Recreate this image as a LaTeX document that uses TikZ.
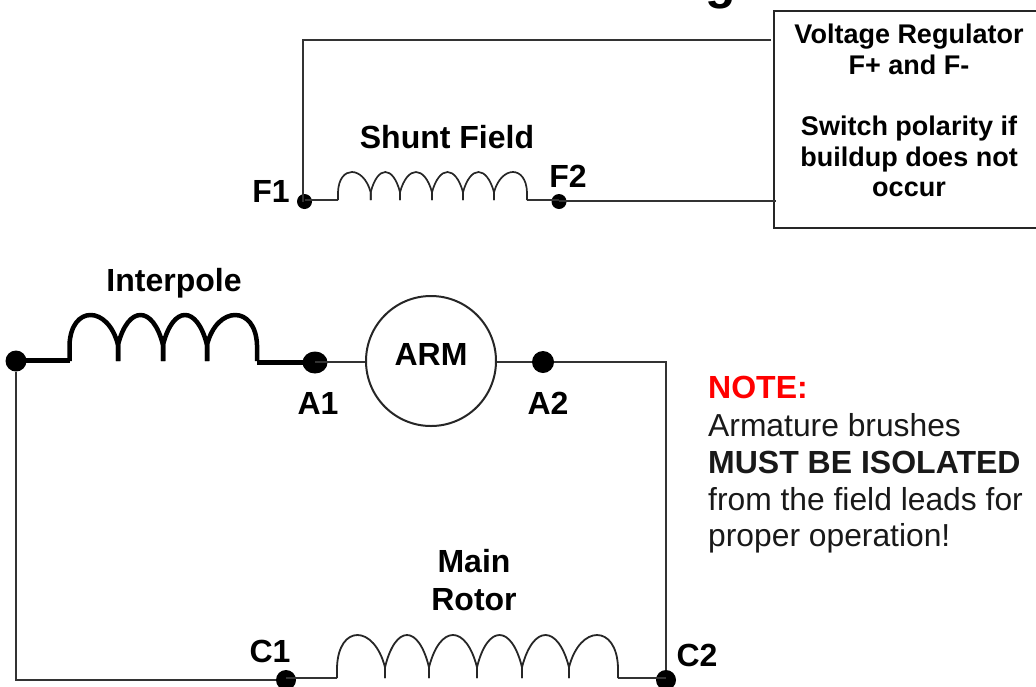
\documentclass[tikz,border=0pt]{standalone}
\usetikzlibrary{shapes.geometric}
\usepackage{fontspec}
\setmainfont{Liberation Sans}
% style, base y, top y, share of the height taken by the stems, list of xa/xb/inset a/inset b
\newcommand{\coil}[5]{%
  \pgfmathsetmacro{\yj}{#2-#4*(#2-#3)}%
  \pgfmathsetmacro{\yc}{\yj-(\yj-#3)/0.75}%
  \foreach \xa/\xb/\ia/\ib in {#5} {
    \draw[#1,line cap=butt,line join=round] (\xa,#2) -- (\xa,\yj) .. controls (\xa+\ia,\yc) and (\xb-\ib,\yc) .. (\xb,\yj) -- (\xb,#2);
  }
}
\tikzset{
  x=1pt,y=-1pt,
  wire/.style={draw=black!80,line width=2pt},
  thickwire/.style={draw=black,line width=5pt},
  dotnode/.style={circle,fill=black,inner sep=0pt,minimum size=#1},
  lab/.style={font=\fontsize{32}{37}\selectfont\bfseries,text=black,inner sep=0pt,anchor=base,align=center},
  boxtext/.style={font=\fontsize{27}{31}\selectfont\bfseries,text=black,inner sep=0pt,anchor=base,align=center},
  note/.style={font=\fontsize{31.8}{37}\selectfont,text=black!90,inner sep=0pt,anchor=base west,align=left},
  notebold/.style={note,font=\fontsize{32}{37}\selectfont\bfseries},
}
\begin{document}
\begin{tikzpicture}
\useasboundingbox (0,0) rectangle (1036,686);
\clip (0,0) rectangle (1036,686);
\node[inner sep=0pt,anchor=base,font=\fontsize{50}{50}\selectfont\bfseries] (title) at (721,-2) {g};
% regulator box
\node[draw=black!85,line width=2pt,minimum width=300pt,minimum height=217pt,anchor=north west,inner sep=0pt] (box) at (773,9.5) {};
\node[boxtext] (vr1) at (909,43) {Voltage Regulator};
\node[boxtext] (vr2) at (909,74) {F+ and F-};
\node[boxtext] (vr3) at (909,135) {Switch polarity if};
\node[boxtext] (vr4) at (909,166) {buildup does not};
\node[boxtext] (vr5) at (909,196) {occur};
% shunt field
\node[dotnode=15pt] (f1) at (304.5,201.5) {};
\node[dotnode=15pt] (f2) at (559,201.5) {};
\coordinate (sa) at (338,200);
\coordinate (sb) at (527,200);
\coordinate (tl) at (303,40);
\coordinate (tr) at (771,40);
\coordinate (br) at (776,201);
\draw[wire] (tr) -- (tl) -- (tl |- f1);
\draw[wire] (f1 |- sa) -- (sa);
\draw[wire] (sb) -- (f2 |- sb);
\draw[wire] (f2 |- br) -- (br);
\coil{line width=1.7pt,draw=black!85}{200}{172}{0.28}{338/370.7/1/7.5,370.7/400/7/7,400/432/7.5/7.5,432/463/7.5/7.5,463/494/7.5/7.5,494/527/7.5/1}
\node[lab] (sf) at (447,148) {Shunt Field};
\node[lab] (lf1) at (271,202) {F1};
\node[lab] (lf2) at (568,187) {F2};
% interpole
\node[dotnode=21pt] (il) at (16,361) {};
\node[ellipse,fill=black,inner sep=0pt,minimum width=25pt,minimum height=22pt] (a1) at (315,362.5) {};
\node[dotnode=22pt] (a2) at (543,362) {};
\coordinate (ia) at (69.5,360);
\coordinate (ib) at (257,362);
\draw[thickwire] (il |- ia) -- (ia);
\draw[thickwire] (ib) -- (a1 |- ib);
\coil{line width=4.5pt,draw=black}{361}{315}{0.35}{69.5/118/1.5/10,118/163/10/10,163/207/10/10,207/257/10/1.5}
\node[lab] (ip) at (174,291) {Interpole};
% armature
\node[draw=black!85,fill=white,line width=2pt,circle,minimum size=130pt,inner sep=0pt] (arm) at (431,361) {};
\node[lab] (armt) at (431,365) {ARM};
\coordinate (wa) at (arm.west |- a2);
\coordinate (ea) at (arm.east |- a2);
\draw[wire] (a1 |- a2) -- (wa);
\draw[wire] (ea) -- (a2);
\node[lab] (la1) at (318,414) {A1};
\node[lab] (la2) at (548,414) {A2};
% main rotor
\node[dotnode=20pt] (c1) at (286,680) {};
\node[dotnode=20pt] (c2) at (666,680) {};
\coordinate (ma) at (337,677.5);
\coordinate (mb) at (618,677.5);
\draw[wire] (a2) -| (c2);
\draw[wire] (il) |- (c1);
\draw[wire] (c1 |- ma) -- (ma);
\draw[wire] (mb) -- (c2 |- mb);
\coil{line width=1.8pt,draw=black!85}{678}{635}{0.25}{337/385/1.5/11,385/429/10.5/10.5,429/477/11/11,477/522/10.5/10.5,522/569/11/11,569/618/11/1.5}
\node[lab] (mr1) at (474,572) {Main};
\node[lab] (mr2) at (474,610) {Rotor};
\node[lab] (lc1) at (270,662) {C1};
\node[lab] (lc2) at (697,666) {C2};
% note
\node[notebold,text=red] (n1) at (708,398) {NOTE:};
\node[note] (n2) at (708,436) {Armature brushes};
\node[notebold] (n3) at (708,473) {MUST BE ISOLATED};
\node[note] (n4) at (708,510) {from the field leads for};
\node[note] (n5) at (708,546) {proper operation!};
\end{tikzpicture}
\end{document}
